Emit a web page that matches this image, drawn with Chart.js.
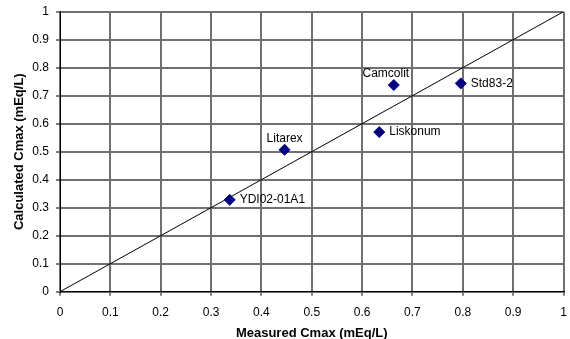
<!DOCTYPE html>
<html>
<head>
<meta charset="utf-8">
<script src="https://cdn.jsdelivr.net/npm/chart.js@4/dist/chart.umd.min.js"></script>
<style>
  html, body { margin: 0; padding: 0; background: #fff; }
  #wrap { width: 570px; height: 339px; }
</style>
</head>
<body>
<div id="wrap"><canvas id="c" width="570" height="339"></canvas></div>
<script>
// Sample names and their measured / calculated Cmax (mEq/L)
const sampleNames = ['YDI02-01A1', 'Litarex', 'Liskonum', 'Camcolit', 'Std83-2'];
const measuredCmax = [0.337, 0.446, 0.634, 0.663, 0.796];
const calculatedCmax = [0.328, 0.507, 0.570, 0.738, 0.744];

// 1:1 reference line
const identityX = [0, 1];
const identityY = [0, 1];

// Axis tick labels
const tickLabels = ['0', '0.1', '0.2', '0.3', '0.4', '0.5', '0.6', '0.7', '0.8', '0.9', '1'];

// Where each sample name sits relative to its marker
const labelPlacement = ['right', 'above', 'right', 'above', 'right'];
const labelShiftX = [0, 0, 0, -8, 0];

const FONT = '"Liberation Sans", Arial, sans-serif';

const pointLabels = {
  id: 'pointLabels',
  afterDatasetsDraw(chart) {
    const meta = chart.getDatasetMeta(0);
    const ctx = chart.ctx;
    ctx.save();
    ctx.font = '12px ' + FONT;
    ctx.fillStyle = '#000';
    meta.data.forEach((el, i) => {
      const name = sampleNames[i];
      ctx.textBaseline = 'middle';
      if (labelPlacement[i] === 'right') {
        ctx.textAlign = 'left';
        ctx.fillText(name, el.x + 10 + labelShiftX[i], el.y);
      } else {
        ctx.textAlign = 'center';
        ctx.fillText(name, el.x + labelShiftX[i], el.y - 11);
      }
    });
    ctx.restore();
  }
};

new Chart(document.getElementById('c'), {
  data: {
    datasets: [
      {
        type: 'scatter',
        order: 0,
        data: measuredCmax.map((x, i) => ({ x: x, y: calculatedCmax[i] })),
        pointStyle: 'rectRot',
        pointRadius: 5.5,
        pointBackgroundColor: '#000080',
        pointBorderColor: '#000080',
        pointBorderWidth: 1
      },
      {
        type: 'line',
        order: 1,
        data: identityX.map((x, i) => ({ x: x, y: identityY[i] })),
        borderColor: '#000',
        borderWidth: 1,
        pointRadius: 0,
        fill: false
      }
    ]
  },
  options: {
    responsive: false,
    animation: false,
    events: [],
    layout: { padding: { left: 12, top: 11.7, right: 3.5, bottom: 0 } },
    plugins: { legend: { display: false }, tooltip: { enabled: false } },
    scales: {
      x: {
        type: 'linear',
        position: 'bottom',
        min: 0, max: 1,
        afterFit(scale) {
          scale.height = 47.3;
          scale.paddingLeft = 0;
          scale.paddingRight = 0;
        },
        ticks: {
          stepSize: 0.1,
          padding: 10,
          color: '#000',
          font: { family: FONT, size: 12 },
          maxRotation: 0,
          callback: (v, i) => tickLabels[i]
        },
        grid: { color: '#707070', lineWidth: 2, tickLength: 4, tickColor: '#000', tickWidth: 1 },
        border: { color: '#000', width: 1 },
        title: {
          display: true,
          text: 'Measured Cmax (mEq/L)',
          color: '#000',
          font: { family: FONT, size: 13, weight: 'bold' },
          padding: { top: 0, bottom: -2 }
        }
      },
      y: {
        type: 'linear',
        min: 0, max: 1,
        afterFit(scale) {
          scale.width = 48;
          scale.paddingTop = 0;
          scale.paddingBottom = 0;
        },
        ticks: {
          stepSize: 0.1,
          padding: 7,
          color: '#000',
          font: { family: FONT, size: 12 },
          callback: (v, i) => tickLabels[i]
        },
        grid: { color: '#707070', lineWidth: 2, tickLength: 4, tickColor: '#000', tickWidth: 1 },
        border: { color: '#000', width: 1 },
        title: {
          display: true,
          text: 'Calculated Cmax (mEq/L)',
          color: '#000',
          font: { family: FONT, size: 13, weight: 'bold' },
          padding: { top: 0, bottom: 0 }
        }
      }
    }
  },
  plugins: [pointLabels]
});
</script>
</body>
</html>
